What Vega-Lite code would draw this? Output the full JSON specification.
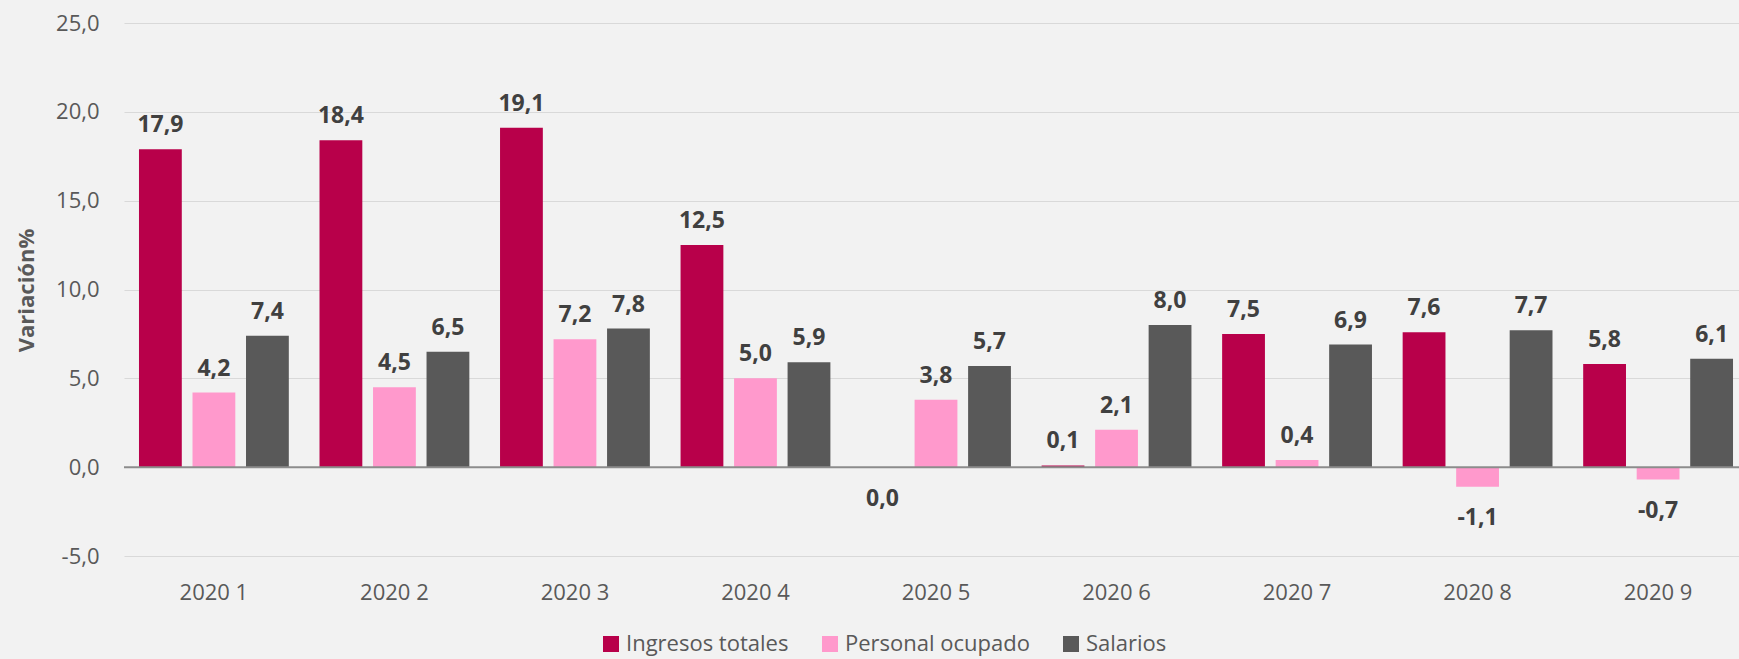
{
  "$schema": "https://vega.github.io/schema/vega-lite/v6.json",
  "autosize": {"type": "none"},
  "padding": {"left": 124, "top": 23, "right": 0, "bottom": 103},
  "width": 1615,
  "height": 533,
  "background": "#f2f2f2",
  "config": {
    "view": {"stroke": null},
    "font": "Open Sans"
  },
  "data": {
    "values": [
      {"periodo": "2020 1", "serie": "Ingresos totales", "valor": 17.9},
      {"periodo": "2020 1", "serie": "Personal ocupado", "valor": 4.2},
      {"periodo": "2020 1", "serie": "Salarios", "valor": 7.4},
      {"periodo": "2020 2", "serie": "Ingresos totales", "valor": 18.4},
      {"periodo": "2020 2", "serie": "Personal ocupado", "valor": 4.5},
      {"periodo": "2020 2", "serie": "Salarios", "valor": 6.5},
      {"periodo": "2020 3", "serie": "Ingresos totales", "valor": 19.1},
      {"periodo": "2020 3", "serie": "Personal ocupado", "valor": 7.2},
      {"periodo": "2020 3", "serie": "Salarios", "valor": 7.8},
      {"periodo": "2020 4", "serie": "Ingresos totales", "valor": 12.5},
      {"periodo": "2020 4", "serie": "Personal ocupado", "valor": 5.0},
      {"periodo": "2020 4", "serie": "Salarios", "valor": 5.9},
      {"periodo": "2020 5", "serie": "Ingresos totales", "valor": -0.04},
      {"periodo": "2020 5", "serie": "Personal ocupado", "valor": 3.8},
      {"periodo": "2020 5", "serie": "Salarios", "valor": 5.7},
      {"periodo": "2020 6", "serie": "Ingresos totales", "valor": 0.1},
      {"periodo": "2020 6", "serie": "Personal ocupado", "valor": 2.1},
      {"periodo": "2020 6", "serie": "Salarios", "valor": 8.0},
      {"periodo": "2020 7", "serie": "Ingresos totales", "valor": 7.5},
      {"periodo": "2020 7", "serie": "Personal ocupado", "valor": 0.4},
      {"periodo": "2020 7", "serie": "Salarios", "valor": 6.9},
      {"periodo": "2020 8", "serie": "Ingresos totales", "valor": 7.6},
      {"periodo": "2020 8", "serie": "Personal ocupado", "valor": -1.1},
      {"periodo": "2020 8", "serie": "Salarios", "valor": 7.7},
      {"periodo": "2020 9", "serie": "Ingresos totales", "valor": 5.8},
      {"periodo": "2020 9", "serie": "Personal ocupado", "valor": -0.7},
      {"periodo": "2020 9", "serie": "Salarios", "valor": 6.1}
    ]
  },
  "layer": [
    {
      "transform": [
        {"calculate": "replace(replace(format(abs(datum.valor) < 0.05 ? 0 : datum.valor, '.1f'), '.', ','), '\u2212', '-')", "as": "lbl"}
      ],
      "encoding": {
        "x": {
          "field": "periodo", "type": "nominal",
          "sort": ["2020 1","2020 2","2020 3","2020 4","2020 5","2020 6","2020 7","2020 8","2020 9"],
          "scale": {"range": [0, 1624], "paddingInner": 0.17, "paddingOuter": 0.083},
          "axis": {
            "title": null, "labelAngle": 0, "labelFontSize": 22, "labelColor": "#595959",
            "labelFont": "Open Sans", "labelPadding": 26, "ticks": false, "domain": false, "grid": false
          }
        },
        "xOffset": {
          "field": "serie", "type": "nominal",
          "sort": ["Ingresos totales", "Personal ocupado", "Salarios"],
          "scale": {"paddingInner": 0.2, "paddingOuter": 0}
        },
        "y": {
          "field": "valor", "type": "quantitative",
          "scale": {"domain": [-5, 25], "nice": false, "zero": false},
          "axis": {
            "values": [-5, 0, 5, 10, 15, 20, 25],
            "labelExpr": "replace(replace(format(datum.value, '.1f'), '.', ','), '\u2212', '-')",
            "labelFontSize": 22, "labelColor": "#595959", "labelFont": "Open Sans",
            "labelPadding": 25, "ticks": false, "domain": false,
            "gridColor": "#d9d9d9", "gridWidth": 1,
            "title": "Variación%", "titleFontSize": 22, "titleFontWeight": "bold",
            "titleColor": "#595959", "titleFont": "Open Sans",
            "titleX": -91, "titleY": 267, "titleBaseline": "alphabetic"
          }
        }
      },
      "layer": [
        {
          "mark": {"type": "bar"},
          "encoding": {
            "color": {
              "field": "serie", "type": "nominal",
              "scale": {
                "domain": ["Ingresos totales", "Personal ocupado", "Salarios"],
                "range": ["#b8004a", "#ff99cc", "#595959"]
              },
              "legend": {
                "title": null, "orient": "none", "direction": "horizontal",
                "legendX": 476, "legendY": 610,
                "symbolType": "square", "symbolSize": 256, "symbolStrokeWidth": 0,
                "labelFontSize": 22, "labelColor": "#595959", "labelFont": "Open Sans",
                "labelOffset": 4, "columnPadding": 30, "labelLimit": 0
              }
            }
          }
        },
        {
          "transform": [{"filter": "datum.valor >= 0"}],
          "mark": {"type": "text", "fontSize": 23, "fontWeight": "bold", "color": "#404040", "baseline": "alphabetic", "dy": -17, "font": "Open Sans"},
          "encoding": {"text": {"field": "lbl"}}
        },
        {
          "transform": [{"filter": "datum.valor < 0"}],
          "mark": {"type": "text", "fontSize": 23, "fontWeight": "bold", "color": "#404040", "baseline": "alphabetic", "dy": 38, "font": "Open Sans"},
          "encoding": {"text": {"field": "lbl"}}
        }
      ]
    },
    {
      "data": {"values": [{}]},
      "mark": {"type": "rule", "color": "#8c8c8c", "strokeWidth": 2},
      "encoding": {"y": {"datum": 0}}
    }
  ]
}
